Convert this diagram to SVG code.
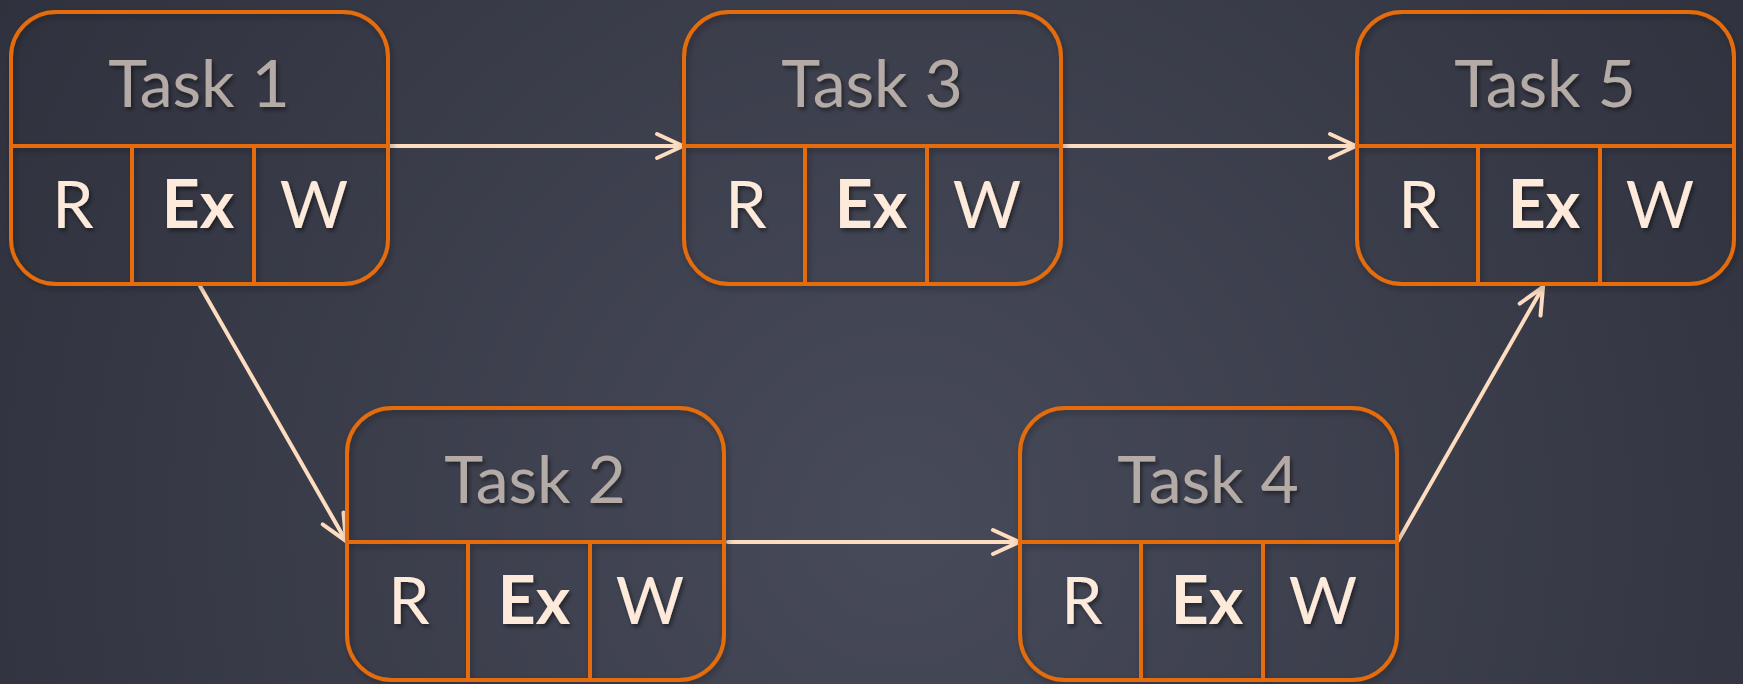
<svg xmlns="http://www.w3.org/2000/svg" xmlns:xlink="http://www.w3.org/1999/xlink" width="1743" height="684" viewBox="0 0 1743 684">
  <defs>
    <radialGradient id="bg" cx="900" cy="520" r="1050" gradientUnits="userSpaceOnUse">
      <stop offset="0" stop-color="#474a59"/>
      <stop offset="1" stop-color="#2f313d"/>
    </radialGradient>
    <filter id="textShadow" x="-20%" y="-20%" width="140%" height="160%">
      <feDropShadow dx="2" dy="3" stdDeviation="2" flood-color="#000" flood-opacity="0.45"/>
    </filter>
    <filter id="boxShadow" x="-10%" y="-10%" width="120%" height="120%">
      <feDropShadow dx="2" dy="3" stdDeviation="3" flood-color="#000" flood-opacity="0.3"/>
    </filter>
    <marker id="chevron" markerUnits="userSpaceOnUse" viewBox="-30 -16 34 32" refX="0" refY="0" markerWidth="34" markerHeight="32" orient="auto" overflow="visible">
      <path d="M -26 -12 L 0 0 L -26 12" fill="none" stroke="#fddcc0" stroke-width="4" stroke-linecap="round" stroke-linejoin="round"/>
    </marker>
    <!-- task card frame: title area on top, three cells below -->
    <g id="frame" filter="url(#boxShadow)">
      <rect x="0" y="0" width="377" height="272" rx="45" ry="45" fill="none" stroke="#e46c0a" stroke-width="4"/>
      <line x1="0" y1="134" x2="377" y2="134" stroke="#e46c0a" stroke-width="4"/>
      <line x1="121" y1="134" x2="121" y2="272" stroke="#e46c0a" stroke-width="4"/>
      <line x1="243" y1="134" x2="243" y2="272" stroke="#e46c0a" stroke-width="4"/>
    </g>
  </defs>
  <style>
    .title { font-family: "Lato", "Open Sans", sans-serif; font-size: 66px; fill: #b4aba6; text-anchor: middle; filter: url(#textShadow); }
    .cell { font-family: "Lato", "Open Sans", sans-serif; font-size: 66px; fill: #fdeadb; text-anchor: middle; filter: url(#textShadow); }
    .bold { font-weight: bold; }
    .conn { fill: none; stroke: #fddcc0; stroke-width: 4; stroke-linecap: round; marker-end: url(#chevron); }
  </style>

  <rect x="0" y="0" width="1743" height="684" fill="url(#bg)"/>

  <g id="connectors">
    <line class="conn" x1="390" y1="146" x2="683" y2="146"/>
    <line class="conn" x1="1063" y1="146" x2="1356" y2="146"/>
    <line class="conn" x1="200" y1="286" x2="346" y2="541"/>
    <line class="conn" x1="728" y1="542" x2="1019" y2="542"/>
    <line class="conn" x1="1398" y1="541" x2="1543" y2="287"/>
  </g>

  <g id="task1" transform="translate(11,12)">
    <use xlink:href="#frame"/>
    <text class="title" x="188" y="95">Task 1</text>
    <text class="cell" x="62" y="216">R</text>
    <text class="cell bold" x="187" y="216">Ex</text>
    <text class="cell" x="303" y="216">W</text>
  </g>

  <g id="task2" transform="translate(347,408)">
    <use xlink:href="#frame"/>
    <text class="title" x="188" y="95">Task 2</text>
    <text class="cell" x="62" y="216">R</text>
    <text class="cell bold" x="187" y="216">Ex</text>
    <text class="cell" x="303" y="216">W</text>
  </g>

  <g id="task3" transform="translate(684,12)">
    <use xlink:href="#frame"/>
    <text class="title" x="188" y="95">Task 3</text>
    <text class="cell" x="62" y="216">R</text>
    <text class="cell bold" x="187" y="216">Ex</text>
    <text class="cell" x="303" y="216">W</text>
  </g>

  <g id="task4" transform="translate(1020,408)">
    <use xlink:href="#frame"/>
    <text class="title" x="188" y="95">Task 4</text>
    <text class="cell" x="62" y="216">R</text>
    <text class="cell bold" x="187" y="216">Ex</text>
    <text class="cell" x="303" y="216">W</text>
  </g>

  <g id="task5" transform="translate(1357,12)">
    <use xlink:href="#frame"/>
    <text class="title" x="188" y="95">Task 5</text>
    <text class="cell" x="62" y="216">R</text>
    <text class="cell bold" x="187" y="216">Ex</text>
    <text class="cell" x="303" y="216">W</text>
  </g>
</svg>
